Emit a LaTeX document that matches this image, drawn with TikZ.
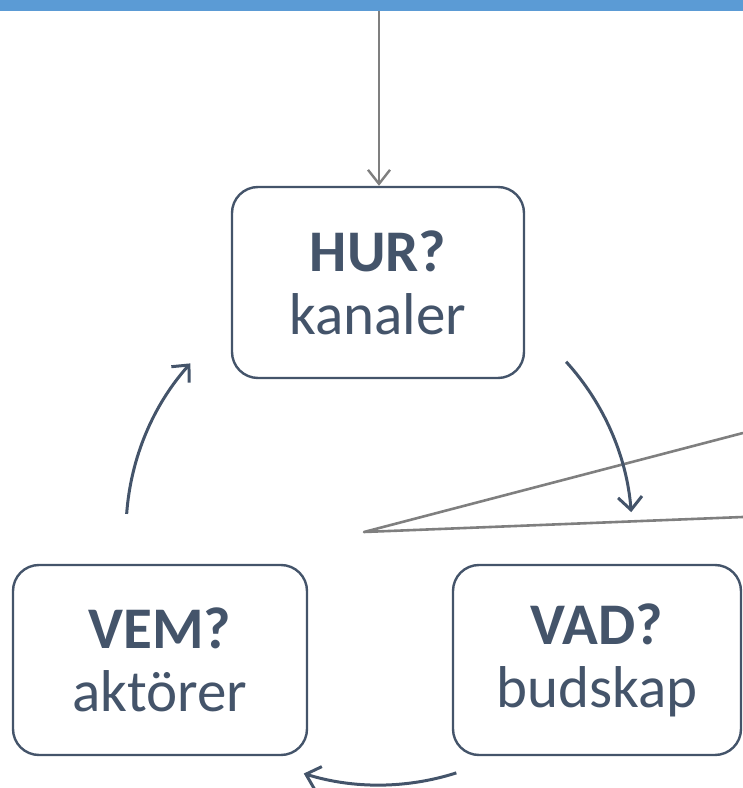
\documentclass[tikz,border=0pt]{standalone}
\usepackage{fontspec}
\setmainfont{Carlito}
\usetikzlibrary{arrows.meta,calc}
\definecolor{topbar}{HTML}{5B9BD5}
\definecolor{slate}{HTML}{44546A}
\definecolor{rule}{HTML}{7F7F7F}
\tikzset{
  x=1pt, y=1pt,
  stepbox/.style={draw=slate, line width=2.4pt, rounded corners=26pt, fill=white,
    text=slate, align=center, inner sep=0pt,
    font=\fontsize{59}{63}\selectfont},
  cyclearrow/.style={draw=slate, line width=3pt,
    -{Straight Barb[length=13pt,width=24pt,line width=3pt]}},
  greyline/.style={draw=rule, line width=2.6pt, line join=round},
  greyarrow/.style={greyline, -{Straight Barb[length=14pt,width=22pt,line width=2.4pt]}}
}
\begin{document}
\begin{tikzpicture}
\useasboundingbox (0,0) rectangle (743,788);
% top band
\fill[topbar] (0,777) rectangle (743,788);
\coordinate (bar) at (379,777);

% the three steps
\node[stepbox, minimum width=292pt, minimum height=191pt] (hur) at (378,505.5)
  {\textbf{HUR?}\\kanaler};
\node[stepbox, minimum width=294pt, minimum height=190pt] (vem) at (160,128)
  {\textbf{VEM?}\\aktörer};
\node[stepbox, minimum width=288pt, minimum height=190pt] (vad) at (597,128)
  {\textbf{VAD?}\\budskap};

% incoming link from the band
\draw[greyarrow] (bar) -- (hur.north -| bar);

% thin wedge lines
\coordinate (apex) at (364,256);
\coordinate (wedgeA) at (743,355);
\coordinate (wedgeB) at (743,271);
\draw[greyline] (wedgeA) -- (apex) -- (wedgeB);

% circular flow between the steps
\coordinate (c) at (379,256);
\draw[cyclearrow] ($(c)+(42.3:253)$) arc[start angle=42.3, end angle=4.5, radius=253];
\draw[cyclearrow] ($(c)+(-72.2:253)$) arc[start angle=-72.2, end angle=-107.3, radius=253];
\draw[cyclearrow] ($(c)+(175.9:253)$) arc[start angle=175.9, end angle=138.2, radius=253];
\end{tikzpicture}
\end{document}
